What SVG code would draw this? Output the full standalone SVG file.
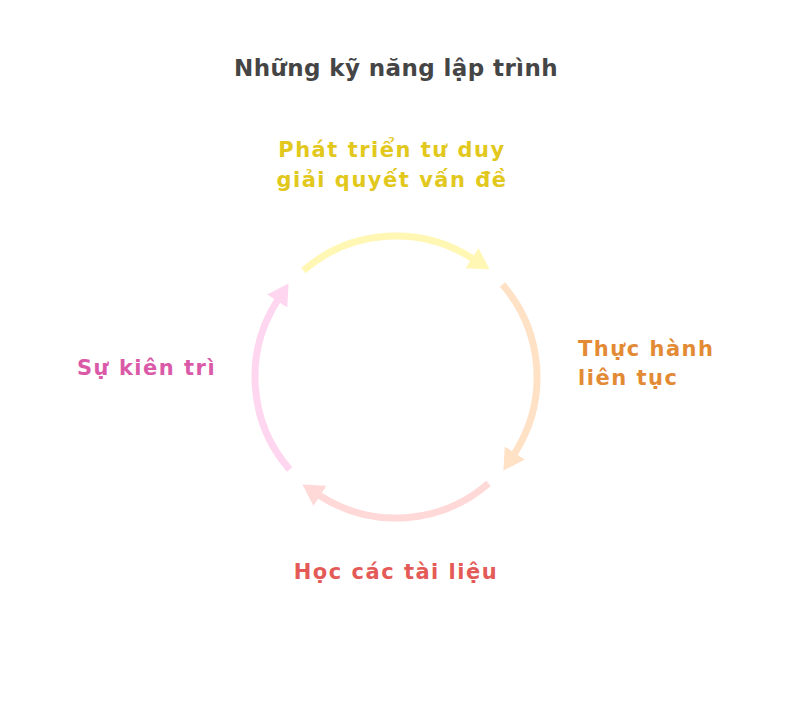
<svg xmlns="http://www.w3.org/2000/svg" width="792" height="714" viewBox="0 0 792 714">
<defs>
<style>
text{font-family:"DejaVu Sans","Noto Sans",sans-serif;font-weight:700;}
.title{font-size:23px;fill:#454545;text-anchor:middle;letter-spacing:0.4px;}
.lbl{font-size:21px;letter-spacing:1.5px;}
.arc{fill:none;stroke-width:7;}
</style>
<marker id="mY" markerUnits="userSpaceOnUse" markerWidth="22" markerHeight="24" refX="1" refY="12" orient="auto"><path d="M0,0 L21,12 L0,24 z" fill="#fff7b3"/></marker>
<marker id="mO" markerUnits="userSpaceOnUse" markerWidth="22" markerHeight="24" refX="1" refY="12" orient="auto"><path d="M0,0 L21,12 L0,24 z" fill="#ffe1c6"/></marker>
<marker id="mR" markerUnits="userSpaceOnUse" markerWidth="22" markerHeight="24" refX="1" refY="12" orient="auto"><path d="M0,0 L21,12 L0,24 z" fill="#ffd8d8"/></marker>
<marker id="mP" markerUnits="userSpaceOnUse" markerWidth="22" markerHeight="24" refX="1" refY="12" orient="auto"><path d="M0,0 L21,12 L0,24 z" fill="#ffd6ef"/></marker>
</defs>
<rect width="792" height="714" fill="#ffffff"/>
<text class="title" x="396" y="76">Những kỹ năng lập trình</text>
<g id="connectors">
<path class="arc" d="M303.5,270.6 A141,141 0 0 1 472.8,258.7" stroke="#fff7b3" marker-end="url(#mY)"/>
<path class="arc" d="M502.4,284.5 A141,141 0 0 1 514.3,453.8" stroke="#ffe1c6" marker-end="url(#mO)"/>
<path class="arc" d="M488.5,483.4 A141,141 0 0 1 319.2,495.3" stroke="#ffd8d8" marker-end="url(#mR)"/>
<path class="arc" d="M289.6,469.5 A141,141 0 0 1 277.7,300.2" stroke="#ffd6ef" marker-end="url(#mP)"/>
</g>
<g id="node-tuduy">
<text class="lbl" x="392" y="157" text-anchor="middle" fill="#e2c81c">Phát triển tư duy</text>
<text class="lbl" x="392" y="187" text-anchor="middle" fill="#e2c81c">giải quyết vấn đề</text>
</g>
<g id="node-thuchanh">
<text class="lbl" x="578" y="356" fill="#e38a35">Thực hành</text>
<text class="lbl" x="578" y="385" fill="#e38a35">liên tục</text>
</g>
<g id="node-hoc">
<text class="lbl" x="396" y="579" text-anchor="middle" fill="#e35a57">Học các tài liệu</text>
</g>
<g id="node-kientri">
<text class="lbl" x="77" y="375" fill="#da5aa8">Sự kiên trì</text>
</g>
</svg>
